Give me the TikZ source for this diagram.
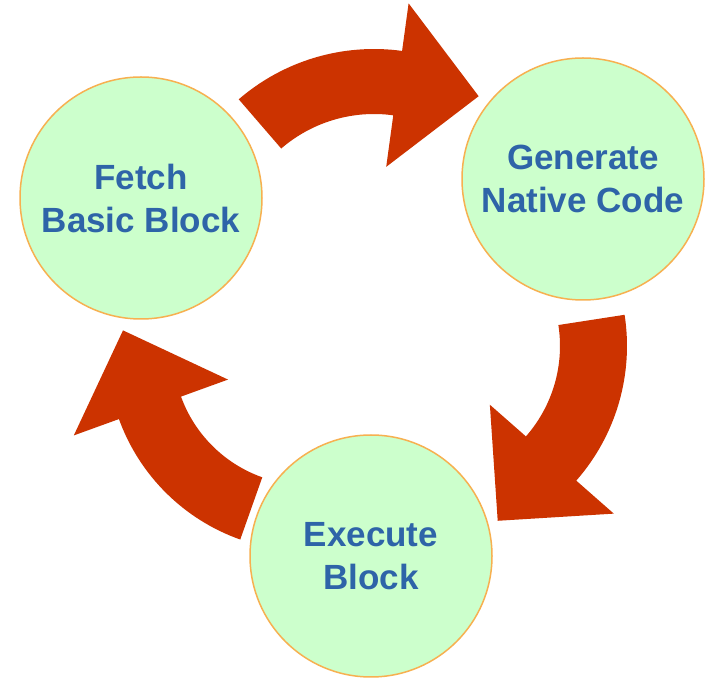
\documentclass[tikz,border=0pt]{standalone}
\usepackage{fontspec}
\setmainfont{Liberation Sans}
\usetikzlibrary{calc}
\definecolor{stagefill}{RGB}{204,255,204}
\definecolor{stageedge}{RGB}{247,176,80}
\definecolor{stagetext}{RGB}{46,100,168}
\definecolor{flowred}{RGB}{204,51,0}
% curved block arrow: centre, start angle, end angle, inner/outer shaft radius, inner/outer barb radius
\newcommand{\cyclearrow}[7]{%
  \fill[flowred]
    ($(#1)+(#2:#5)$) arc[start angle=#2, end angle=#3, radius=#5]
    -- ($(#1)+(#3:#7)$)
    -- ($(#1)+(#3:{(#6+#7)/2})+({#3-90}:82)$)
    -- ($(#1)+(#3:#6)$)
    -- ($(#1)+(#3:#4)$)
    arc[start angle=#3, end angle=#2, radius=#4]
    -- cycle;}
\begin{document}
\begin{tikzpicture}[x=1pt,y=1pt,
  stage/.style={circle, draw=stageedge, line width=1.5pt, fill=stagefill,
    minimum size=242pt, inner sep=0pt, align=center, text=stagetext,
    font=\fontsize{35}{43}\selectfont\bfseries}]
\fill[white] (0,0) rectangle (713,678);
\useasboundingbox (0,0) rectangle (713,678);

% centres of the three curved arrows
\coordinate (topc) at (374,422);
\coordinate (rightc) at (423,332);
\coordinate (leftc) at (307,327);

\cyclearrow{topc}{130.8}{82.2}{142}{207}{90}{255}
\cyclearrow{rightc}{8.8}{-41.3}{137}{204}{89}{254}
\cyclearrow{leftc}{-109.5}{-160.1}{134}{200}{84}{248}

\node[stage] (fetch) at (141,480) {Fetch\\Basic Block};
\node[stage] (gen) at (583,499) {Generate\\Native Code};
\node[stage] (exec) at (371,122) {Execute\\Block};
\end{tikzpicture}
\end{document}
